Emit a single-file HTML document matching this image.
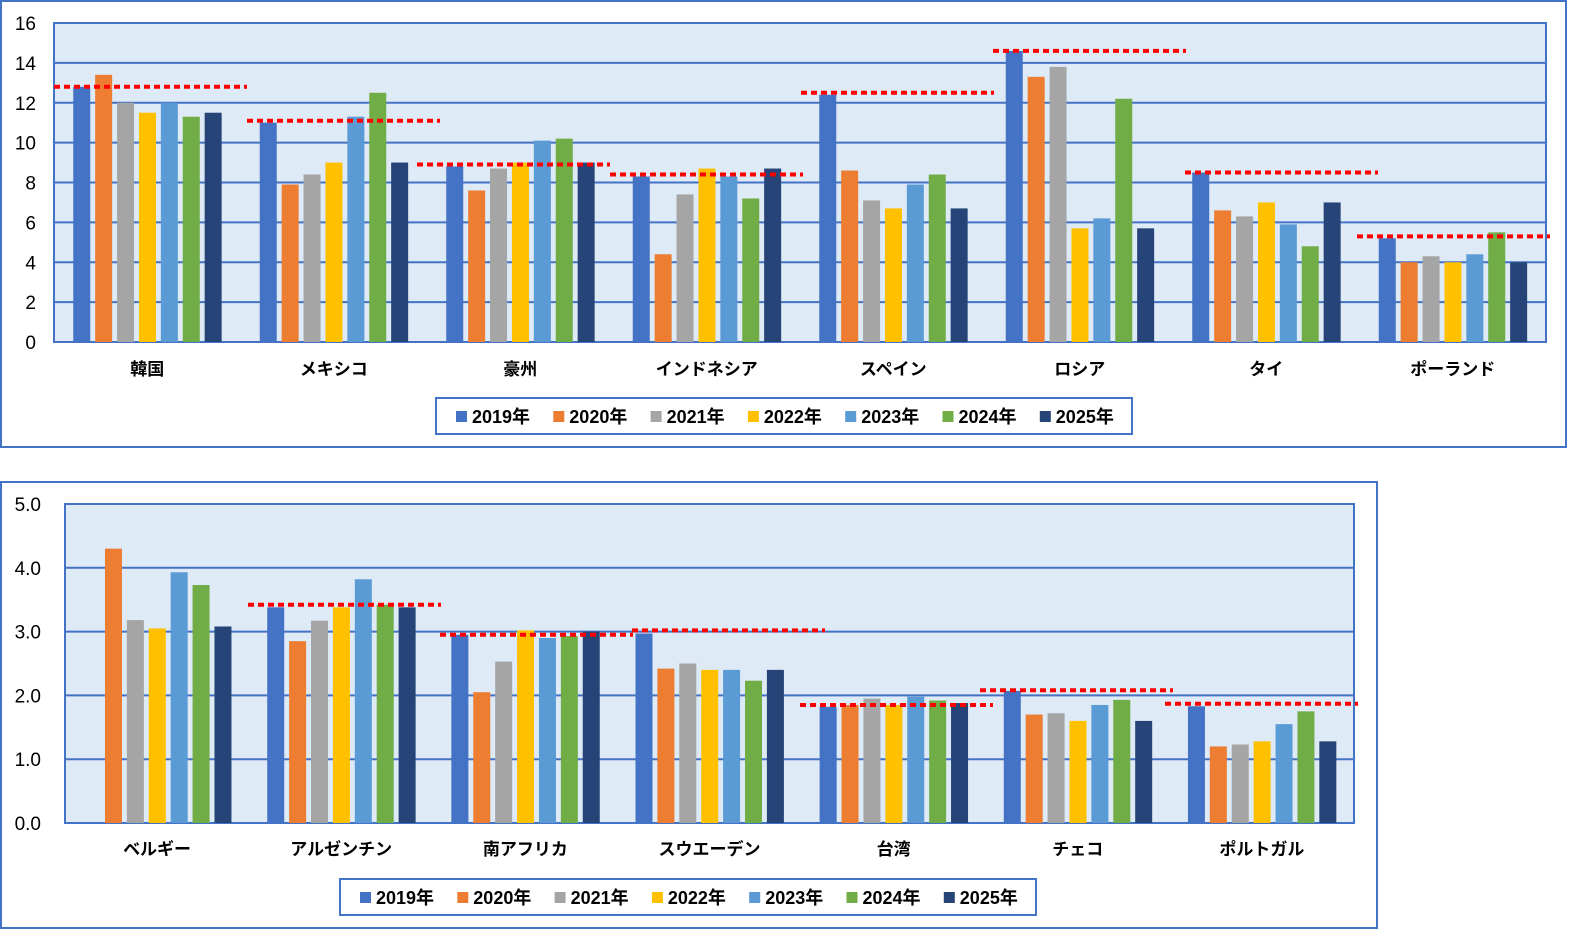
<!DOCTYPE html><html><head><meta charset="utf-8"><style>html,body{margin:0;background:#fff;overflow:hidden;width:1579px;height:936px}svg{display:block}text{font-family:"Liberation Sans","Noto Sans CJK JP",sans-serif;font-size:17px;fill:#000}</style></head><body>
<svg width="1579" height="936" xmlns="http://www.w3.org/2000/svg" id="s"></svg>
<script>
const C=["#4472C4","#ED7D31","#A5A5A5","#FFC000","#5B9BD5","#70AD47","#264478"];
const s=document.getElementById('s');let h='';
function chart(o){
h+=`<rect x="${o.bx}" y="${o.by}" width="${o.bw}" height="${o.bh}" fill="#fff" stroke="#4472C4" stroke-width="2"/>`;
h+=`<rect x="${o.x0}" y="${o.yt}" width="${o.x1-o.x0}" height="${o.yb-o.yt}" fill="#DEEAF6" stroke="#4472C4" stroke-width="2"/>`;
const k=(o.yb-o.yt)/o.max;
for(let v=0;v<=o.max+1e-9;v+=o.step){const y=o.yb-v*k;
h+=`<line x1="${o.x0}" x2="${o.x1}" y1="${y}" y2="${y}" stroke="#4472C4" stroke-width="2"/>`;
h+=`<text x="${o.lx}" y="${y+7}" text-anchor="end" style="font-size:19px">${v.toFixed(o.dec)}</text>`;}
const n=o.data.length,gw=(o.x1-o.x0)/n;
o.data.forEach((d,i)=>{const cx=o.x0+gw*(i+.5);
d.v.forEach((v,j)=>{if(!v)return;const x=cx-74+j*21.9;h+=`<rect x="${x}" y="${o.yb-v*k}" width="17" height="${v*k}" fill="${C[j]}"/>`;});
h+=`<text x="${cx}" y="${o.cy}" text-anchor="middle" font-weight="bold">${d.n}</text>`;});
o.data.forEach(d=>{if(d.r==null)return;const y=o.yb-d.r*k;h+=`<line x1="${d.a}" x2="${d.a+193}" y1="${y}" y2="${y}" stroke="#FF0000" stroke-width="4" stroke-dasharray="6,4"/>`;});
h+=`<rect x="${o.lgx}" y="${o.lgy}" width="696" height="36" fill="#fff" stroke="#4472C4" stroke-width="2"/>`;
for(let j=0;j<7;j++){const x=o.lgx+20+j*97.3;h+=`<rect x="${x}" y="${o.lgy+13}" width="11" height="11" fill="${C[j]}"/><text x="${x+16}" y="${o.lgy+25}" font-weight="bold" style="font-size:18px">${2019+j}年</text>`;}
}
chart({bx:1,by:1,bw:1565,bh:446,x0:54,x1:1546,yt:23,yb:342,max:16,step:2,dec:0,lx:36,cy:375,lgx:436,lgy:398,data:[
{n:"韓国",v:[12.8,13.4,12.0,11.5,12.0,11.3,11.5],r:12.8,a:54},
{n:"メキシコ",v:[11.0,7.9,8.4,9.0,11.3,12.5,9.0],r:11.1,a:247},
{n:"豪州",v:[8.8,7.6,8.7,9.0,10.1,10.2,9.0],r:8.9,a:417},
{n:"インドネシア",v:[8.3,4.4,7.4,8.7,8.3,7.2,8.7],r:8.4,a:610},
{n:"スペイン",v:[12.4,8.6,7.1,6.7,7.9,8.4,6.7],r:12.5,a:801},
{n:"ロシア",v:[14.6,13.3,13.8,5.7,6.2,12.2,5.7],r:14.6,a:993},
{n:"タイ",v:[8.5,6.6,6.3,7.0,5.9,4.8,7.0],r:8.5,a:1185},
{n:"ポーランド",v:[5.2,4.0,4.3,4.0,4.4,5.5,4.0],r:5.3,a:1357}]});
chart({bx:1,by:482,bw:1376,bh:446,x0:65,x1:1354,yt:504,yb:823,max:5,step:1,dec:1,lx:41,cy:855,lgx:340,lgy:879,data:[
{n:"ベルギー",v:[0,4.3,3.18,3.05,3.93,3.73,3.08]},
{n:"アルゼンチン",v:[3.38,2.85,3.17,3.38,3.82,3.42,3.38],r:3.42,a:248},
{n:"南アフリカ",v:[2.95,2.05,2.53,3.02,2.9,2.93,3.0],r:2.95,a:440},
{n:"スウエーデン",v:[2.97,2.42,2.5,2.4,2.4,2.23,2.4],r:3.02,a:632},
{n:"台湾",v:[1.82,1.85,1.95,1.85,1.98,1.92,1.88],r:1.85,a:800},
{n:"チェコ",v:[2.07,1.7,1.72,1.6,1.85,1.93,1.6],r:2.08,a:980},
{n:"ポルトガル",v:[1.83,1.2,1.23,1.28,1.55,1.75,1.28],r:1.87,a:1165}]});
s.innerHTML=h;
</script></body></html>
